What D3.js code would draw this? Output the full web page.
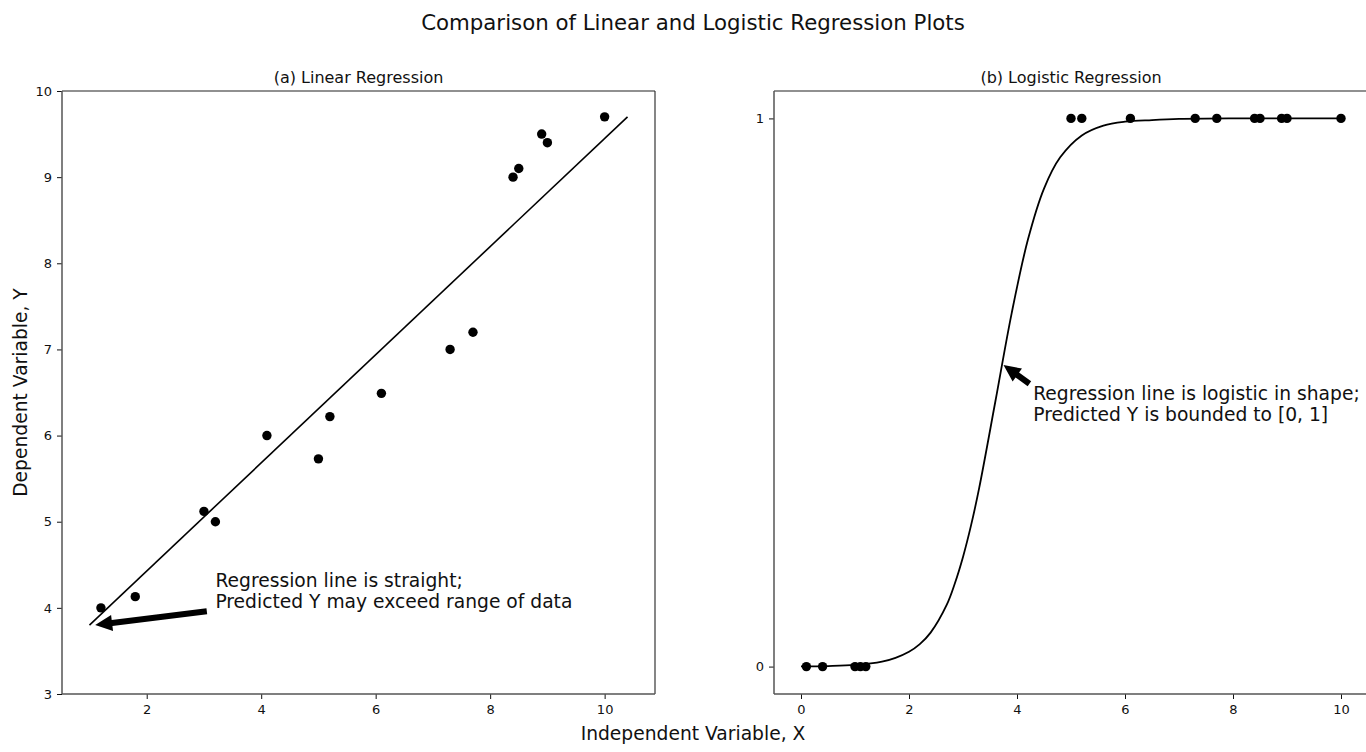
<!DOCTYPE html>
<html>
<head>
<meta charset="utf-8">
<script src="https://cdn.jsdelivr.net/npm/d3@7"></script>
<style>
    body { margin: 0; background: #fff; }
    svg { display: block; font-family: "DejaVu Sans", sans-serif; }
    .tick line { stroke: #111; }
</style>
</head>
<body>
<svg id="chart" width="1366" height="752"></svg>
<script>
// (a) linear regression data
const linearX = [1.2, 1.8, 3.0, 3.2, 4.1, 5.0, 5.2, 6.1, 7.3, 7.7, 8.4, 8.5, 8.9, 9.0, 10.0];
const linearY = [4.0, 4.13, 5.12, 5.0, 6.0, 5.73, 6.22, 6.49, 7.0, 7.2, 9.0, 9.1, 9.5, 9.4, 9.7];
const fitLineX = [1.0, 10.4];
const fitLineY = [3.8, 9.7];
const linearXTicks = [2, 4, 6, 8, 10];
const linearYTicks = [3, 4, 5, 6, 7, 8, 9, 10];

// (b) logistic regression data
const logisticX = [0.1, 0.4, 1.0, 1.1, 1.2, 5.0, 5.2, 6.1, 7.3, 7.7, 8.4, 8.5, 8.9, 9.0, 10.0];
const logisticY = [0, 0, 0, 0, 0, 1, 1, 1, 1, 1, 1, 1, 1, 1, 1];
const curveX = [0, 0.5, 1.0, 1.5, 1.75, 2.0, 2.2, 2.4, 2.7, 2.85, 3.0, 3.15, 3.3, 3.6, 3.9, 4.2, 4.5, 4.8, 5.2, 5.6, 6.0, 6.5, 7.0, 8.0, 9.0, 10.0];
const curveY = [0.0003, 0.001, 0.003, 0.009, 0.016, 0.027, 0.041, 0.062, 0.113, 0.152, 0.20, 0.258, 0.326, 0.484, 0.644, 0.778, 0.872, 0.929, 0.969, 0.987, 0.994, 0.997, 0.999, 1.0, 1.0, 1.0];
const logisticXTicks = [0, 2, 4, 6, 8, 10];
const logisticYTicks = [0, 1];

const svg = d3.select('#chart');
const plotTop = 91, plotBottom = 694;

svg.append('text')
    .attr('x', 693).attr('y', 30)
    .attr('text-anchor', 'middle')
    .attr('font-size', '21.3px')
    .attr('fill', '#111')
    .text('Comparison of Linear and Logistic Regression Plots');

svg.append('text')
    .attr('x', 693).attr('y', 740)
    .attr('text-anchor', 'middle')
    .attr('font-size', '18.7px')
    .attr('fill', '#111')
    .text('Independent Variable, X');

svg.append('text')
    .attr('transform', `translate(27,${(plotTop + plotBottom) / 2}) rotate(-90)`)
    .attr('text-anchor', 'middle')
    .attr('font-size', '18.7px')
    .attr('fill', '#111')
    .text('Dependent Variable, Y');

// arrow polygon from tail to tip, in pixels
function arrowPoints(x1, y1, x2, y2, w, hw, hl) {
    const dx = x2 - x1, dy = y2 - y1;
    const len = Math.hypot(dx, dy);
    const ux = dx / len, uy = dy / len;
    const nx = -uy, ny = ux;
    const bx = x2 - ux * hl, by = y2 - uy * hl;
    return [
        [x1 + nx * w / 2, y1 + ny * w / 2],
        [bx + nx * w / 2, by + ny * w / 2],
        [bx + nx * hw / 2, by + ny * hw / 2],
        [x2, y2],
        [bx - nx * hw / 2, by - ny * hw / 2],
        [bx - nx * w / 2, by - ny * w / 2],
        [x1 - nx * w / 2, y1 - ny * w / 2]
    ].map(p => p.join(',')).join(' ');
}

function drawPanel(opts) {
    const g = svg.append('g');
    const x = d3.scaleLinear().domain(opts.xDomain).range([opts.left, opts.right]);
    const y = d3.scaleLinear().domain(opts.yDomain).range([plotBottom, plotTop]);

    g.append('text')
        .attr('x', (opts.left + opts.right) / 2)
        .attr('y', 82.5)
        .attr('text-anchor', 'middle')
        .attr('font-size', '16px')
        .attr('fill', '#111')
        .text(opts.title);

    g.append('g')
        .attr('transform', `translate(0,${plotBottom})`)
        .call(d3.axisBottom(x).tickValues(opts.xTicks).tickSize(5).tickPadding(6).tickFormat(d3.format('d')))
        .attr('font-size', 13)
        .attr('font-family', 'DejaVu Sans')
        .call(a => a.select('.domain').remove());
    g.append('g')
        .attr('transform', `translate(${opts.left},0)`)
        .call(d3.axisLeft(y).tickValues(opts.yTicks).tickSize(5).tickPadding(5).tickFormat(d3.format('d')))
        .attr('font-size', 13)
        .attr('font-family', 'DejaVu Sans')
        .call(a => a.select('.domain').remove());
    g.selectAll('.tick text').attr('fill', '#111');

    // spines
    g.append('line').attr('x1', opts.left).attr('x2', opts.right).attr('y1', plotTop).attr('y2', plotTop)
        .attr('stroke', '#222').attr('stroke-width', 1.1);
    g.append('line').attr('x1', opts.right).attr('x2', opts.right).attr('y1', plotTop).attr('y2', plotBottom)
        .attr('stroke', '#222').attr('stroke-width', 1.1);
    g.append('line').attr('x1', opts.left).attr('x2', opts.right).attr('y1', plotBottom).attr('y2', plotBottom)
        .attr('stroke', '#555').attr('stroke-width', 1.5);
    g.append('line').attr('x1', opts.left).attr('x2', opts.left).attr('y1', plotTop).attr('y2', plotBottom)
        .attr('stroke', '#555').attr('stroke-width', 1.5);

    const line = d3.line()
        .x(d => x(d[0]))
        .y(d => y(d[1]))
        .curve(opts.curve);
    g.append('path')
        .datum(d3.zip(opts.lineX, opts.lineY))
        .attr('d', line)
        .attr('fill', 'none')
        .attr('stroke', '#000')
        .attr('stroke-width', opts.lineWidth);

    g.selectAll('circle')
        .data(d3.zip(opts.pointX, opts.pointY))
        .enter().append('circle')
        .attr('cx', d => x(d[0]))
        .attr('cy', d => y(d[1]))
        .attr('r', 4.7)
        .attr('fill', '#000');

    const a = opts.note;
    g.append('polygon')
        .attr('points', arrowPoints(x(a.tail[0]), y(a.tail[1]), x(a.tip[0]), y(a.tip[1]), 6, 16, 17))
        .attr('fill', '#000');

    const t = g.append('text')
        .attr('x', x(a.text[0]))
        .attr('y', y(a.text[1]))
        .attr('font-size', '18.7px')
        .attr('fill', '#111');
    a.lines.forEach((s, i) => {
        t.append('tspan')
            .attr('x', x(a.text[0]))
            .attr('dy', i === 0 ? 0 : 21)
            .text(s);
    });
}

drawPanel({
    title: '(a) Linear Regression',
    left: 62, right: 655,
    xDomain: [0.52, 10.88], yDomain: [3, 10],
    xTicks: linearXTicks, yTicks: linearYTicks,
    pointX: linearX, pointY: linearY,
    lineX: fitLineX, lineY: fitLineY,
    curve: d3.curveLinear, lineWidth: 1.6,
    note: {
        tail: [3.05, 3.96], tip: [1.1, 3.8], text: [3.2, 4.24],
        lines: ['Regression line is straight;', 'Predicted Y may exceed range of data']
    }
});

drawPanel({
    title: '(b) Logistic Regression',
    left: 774, right: 1368,
    xDomain: [-0.5, 10.5], yDomain: [-0.05, 1.05],
    xTicks: logisticXTicks, yTicks: logisticYTicks,
    pointX: logisticX, pointY: logisticY,
    lineX: curveX, lineY: curveY,
    curve: d3.curveCatmullRom.alpha(0.5), lineWidth: 1.8,
    note: {
        tail: [4.23, 0.516], tip: [3.75, 0.55], text: [4.3, 0.487],
        lines: ['Regression line is logistic in shape;', 'Predicted Y is bounded to [0, 1]']
    }
});
</script>
</body>
</html>
